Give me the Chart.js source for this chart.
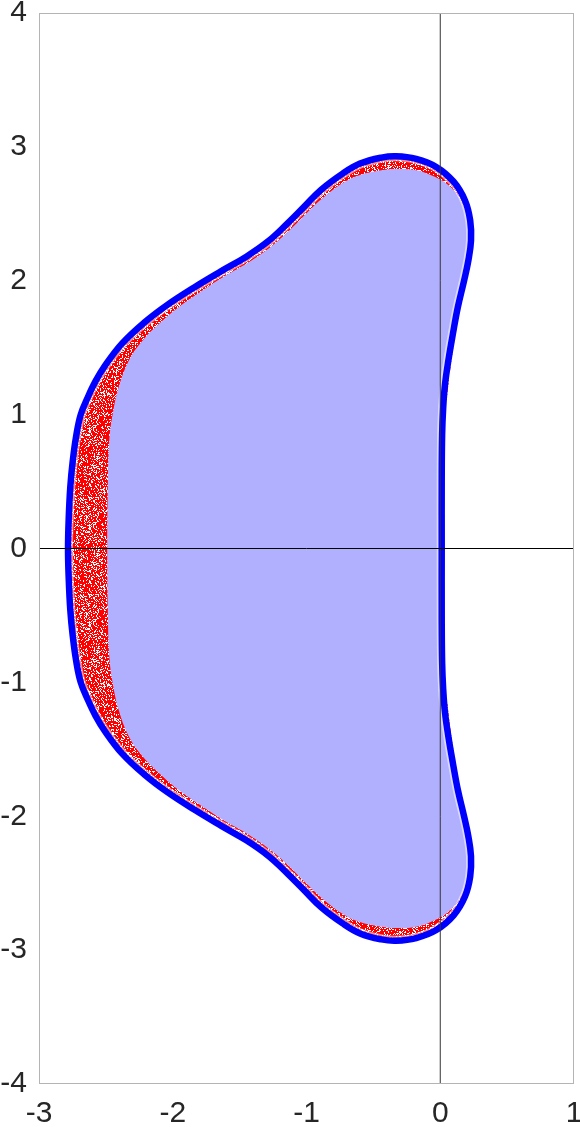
<!DOCTYPE html>
<html><head><meta charset="utf-8">
<script src="https://cdn.jsdelivr.net/npm/chart.js@4.4.1/dist/chart.umd.min.js"></script>
<style>html,body{margin:0;padding:0;background:#fff;}canvas{display:block}</style>
</head><body>
<canvas id="c" width="580" height="1127"></canvas>
<script>
// Outer stability boundary (blue curve), closed loop
const boundaryX = [0.011,0.011,0.014,0.022,0.035,0.060,0.094,0.131,0.178,0.210,0.230,0.224,0.185,0.100,-0.030,-0.180,-0.330,-0.440,-0.600,-0.730,-0.890,-1.020,-1.140,-1.280,-1.450,-1.640,-1.840,-2.040,-2.210,-2.380,-2.510,-2.577,-2.635,-2.688,-2.722,-2.748,-2.766,-2.778,-2.783,
  -2.778,-2.766,-2.748,-2.722,-2.688,-2.635,-2.577,-2.510,-2.380,-2.210,-2.040,-1.840,-1.640,-1.450,-1.280,-1.140,-1.020,-0.890,-0.730,-0.600,-0.440,-0.330,-0.180,-0.030,0.100,0.185,0.224,0.230,0.210,0.178,0.131,0.094,0.060,0.035,0.022,0.014,0.011,0.011];
const boundaryY = [0.00,0.50,0.85,1.05,1.22,1.40,1.60,1.80,2.00,2.15,2.30,2.45,2.60,2.74,2.85,2.91,2.93,2.92,2.875,2.80,2.68,2.55,2.43,2.30,2.18,2.07,1.95,1.82,1.69,1.53,1.36,1.25,1.13,1.00,0.84,0.65,0.46,0.22,0.00,
  -0.22,-0.46,-0.65,-0.84,-1.00,-1.13,-1.25,-1.36,-1.53,-1.69,-1.82,-1.95,-2.07,-2.18,-2.30,-2.43,-2.55,-2.68,-2.80,-2.875,-2.92,-2.93,-2.91,-2.85,-2.74,-2.60,-2.45,-2.30,-2.15,-2.00,-1.80,-1.60,-1.40,-1.22,-1.05,-0.85,-0.50,0.00];
// Inner edge of the red scatter band (edge of light-blue fill), closed loop
const fillX = [0.011,0.011,0.014,0.022,0.035,0.060,0.094,0.131,0.178,0.210,0.222,0.205,0.155,0.060,-0.050,-0.180,-0.330,-0.440,-0.600,-0.720,-0.870,-1.000,-1.120,-1.260,-1.430,-1.620,-1.790,-1.960,-2.100,-2.220,-2.320,-2.400,-2.450,-2.475,-2.485,-2.490,
  -2.485,-2.475,-2.450,-2.400,-2.320,-2.220,-2.100,-1.960,-1.790,-1.620,-1.430,-1.260,-1.120,-1.000,-0.870,-0.720,-0.600,-0.440,-0.330,-0.180,-0.050,0.060,0.155,0.205,0.222,0.210,0.178,0.131,0.094,0.060,0.035,0.022,0.014,0.011,0.011];
const fillY = [0.00,0.50,0.85,1.05,1.22,1.40,1.60,1.80,2.00,2.15,2.30,2.45,2.60,2.715,2.78,2.825,2.835,2.825,2.79,2.735,2.625,2.505,2.385,2.26,2.14,2.03,1.92,1.80,1.68,1.56,1.42,1.22,1.00,0.80,0.50,0.00,
  -0.50,-0.80,-1.00,-1.22,-1.42,-1.56,-1.68,-1.80,-1.92,-2.03,-2.14,-2.26,-2.385,-2.505,-2.625,-2.735,-2.79,-2.825,-2.835,-2.825,-2.78,-2.715,-2.60,-2.45,-2.30,-2.15,-2.00,-1.80,-1.60,-1.40,-1.22,-1.05,-0.85,-0.50,0.00];
// Sparse red dots just outside the blue curve on the right side (upper and lower parts)
const outerUpX = [0.040, 0.062, 0.090, 0.122, 0.150];
const outerUpY = [1.10, 1.30, 1.50, 1.70, 1.88];
const outerLoX = [0.040, 0.062, 0.090, 0.122, 0.155, 0.190];
const outerLoY = [-1.10, -1.30, -1.50, -1.70, -1.90, -2.08];
// Coordinate axes lines
const axisVX = [0, 0], axisVY = [-4, 4];
const axisHX = [-3, 1], axisHY = [0, 0];
const xTicks = [-3, -2, -1, 0, 1];
const yTicks = [-4, -3, -2, -1, 0, 1, 2, 3, 4];

const pts = (xs, ys) => xs.map((x, i) => ({x, y: ys[i]}));

// speckled red texture (deterministic hash pattern, purely a fill style)
function speckle(density) {
  const n = 97, c = document.createElement('canvas');
  c.width = n; c.height = n;
  const g = c.getContext('2d');
  const img = g.createImageData(n, n);
  for (let j = 0; j < n; j++) for (let i = 0; i < n; i++) {
    let h = Math.imul(i, 374761393) ^ Math.imul(j, 668265263);
    h = Math.imul(h ^ (h >>> 13), 1274126177);
    h = (h ^ (h >>> 16)) >>> 0;
    const k = (j * n + i) * 4;
    if ((h & 255) < density) { img.data[k] = 255; img.data[k + 1] = 0; img.data[k + 2] = 0; img.data[k + 3] = 255; }
  }
  g.putImageData(img, 0, 0);
  return g.createPattern(c, 'repeat');
}

const framePlugin = {
  id: 'frame',
  afterDraw(chart) {
    const {ctx, chartArea: a} = chart;
    ctx.save();
    ctx.strokeStyle = '#b4b4b4';
    ctx.lineWidth = 1;
    ctx.strokeRect(Math.round(a.left) + 0.5, Math.round(a.top) + 0.5, Math.round(a.right - a.left) - 1, Math.round(a.bottom - a.top) - 1);
    ctx.restore();
  }
};

const FONT = {family: '"Liberation Sans", Arial, Helvetica, sans-serif', size: 30};
const redSpeckle = speckle(185);
const redSparse = speckle(110);

new Chart(document.getElementById('c'), {
  type: 'scatter',
  data: {
    datasets: [
      {data: pts(axisHX, axisHY), showLine: true, borderColor: '#000', borderWidth: 1, pointRadius: 0, fill: false, order: 0},
      {data: pts(axisVX, axisVY), showLine: true, borderColor: '#333', borderWidth: 1, pointRadius: 0, fill: false, order: 0},
      {data: pts(boundaryX, boundaryY), showLine: true, borderColor: '#0000ff', borderWidth: 6.5, pointRadius: 0, tension: 0.4, fill: false, order: 1},
      {data: pts(outerUpX, outerUpY), showLine: true, borderColor: redSparse, borderWidth: 2, pointRadius: 0, tension: 0.4, fill: false, order: 2},
      {data: pts(outerLoX, outerLoY), showLine: true, borderColor: redSparse, borderWidth: 2, pointRadius: 0, tension: 0.4, fill: false, order: 2},
      {data: pts(boundaryX, boundaryY), showLine: true, borderColor: 'rgba(255,255,255,0.55)', borderWidth: 10, pointRadius: 0, tension: 0.4, fill: false, order: 3},
      {data: pts(fillX, fillY), showLine: true, borderColor: 'rgba(0,0,0,0)', borderWidth: 0, pointRadius: 0, tension: 0.4, fill: 'shape', backgroundColor: '#b0b0ff', order: 4},
      {data: pts(boundaryX, boundaryY), showLine: true, borderColor: 'rgba(0,0,0,0)', borderWidth: 0, pointRadius: 0, tension: 0.4, fill: 'shape', backgroundColor: redSpeckle, order: 5}
    ]
  },
  options: {
    responsive: false,
    animation: false,
    devicePixelRatio: 1,
    layout: {padding: {top: 13, right: 6, left: 0, bottom: 0}},
    plugins: {legend: {display: false}, tooltip: {enabled: false}},
    scales: {
      x: {
        type: 'linear', min: -3, max: 1,
        afterBuildTicks: s => { s.ticks = xTicks.map(v => ({value: v})); },
        ticks: {font: FONT, color: '#262626', padding: 12, maxRotation: 0, callback: v => String(v)},
        grid: {display: false, drawTicks: false},
        border: {display: false},
        afterFit: s => { s.height = 43; s.paddingLeft = 0; s.paddingRight = 0; }
      },
      y: {
        type: 'linear', min: -4, max: 4,
        afterBuildTicks: s => { s.ticks = yTicks.map(v => ({value: v})); },
        ticks: {font: FONT, color: '#262626', padding: 12, callback: v => String(v)},
        grid: {display: false, drawTicks: false},
        border: {display: false},
        afterFit: s => { s.width = 39; s.paddingTop = 0; s.paddingBottom = 0; }
      }
    }
  },
  plugins: [framePlugin]
});
</script>
</body></html>
